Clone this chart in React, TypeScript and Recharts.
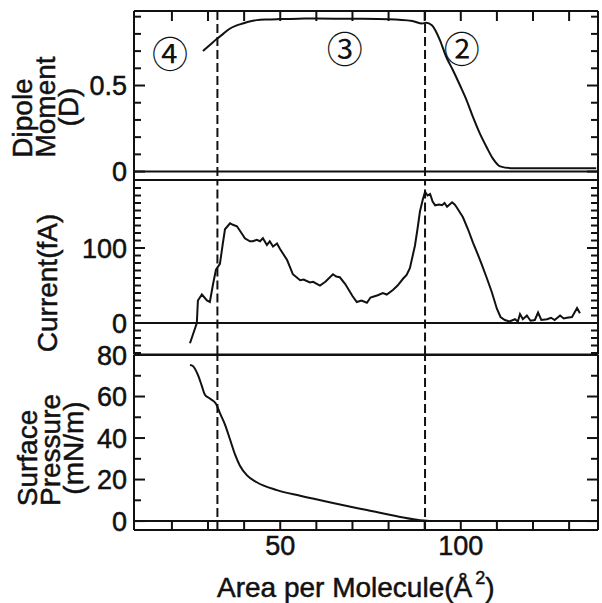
import React from 'react';
import { LineChart, Line, XAxis, YAxis, ReferenceLine, ReferenceDot } from 'recharts';

const W = 602;
const H = 603;
const LEFT = 134;
const RIGHT = 598;
const FONT = '"Liberation Sans", Arial, Helvetica, sans-serif';
const CJK = '"Noto Sans CJK JP", "Noto Sans CJK SC", sans-serif';
const INK = '#111';

// shared x axis: area per molecule (Å²)
const areaDomain: [number, number] = [9.5, 138];
const areaTicks = [20, 30, 40, 50, 60, 70, 80, 90, 100, 110, 120, 130];
const areaTickLabels = [50, 100];
const phaseBoundaries = [32.6, 90.1];

// panel 1: dipole moment (D)
const dipoleArea = [28.6, 30.5, 32.4, 34.2, 36.0, 37.8, 39.6, 41.5, 43.5, 46.5, 49.9, 55, 60, 70, 80, 86.6, 89.3, 90.4, 92.0, 94.3, 95.9, 97.8, 99.8, 101.7, 103.5, 105.3, 107.2, 108.9, 110.9, 114, 120, 128, 137.5];
const dipoleMoment = [0.70, 0.735, 0.77, 0.80, 0.83, 0.848, 0.86, 0.872, 0.88, 0.884, 0.886, 0.888, 0.89, 0.888, 0.885, 0.875, 0.86, 0.865, 0.85, 0.76, 0.67, 0.59, 0.50, 0.41, 0.31, 0.22, 0.14, 0.075, 0.03, 0.02, 0.02, 0.02, 0.02];
const dipoleDomain: [number, number] = [-0.049, 0.933];
const dipoleTicks = [0, 0.1, 0.2, 0.3, 0.4, 0.5, 0.6, 0.7, 0.8, 0.9];
const dipoleTickLabels = [0, 0.5];

// panel 2: current (fA)
const currentArea = [25.0, 26.9, 27.2, 28.3, 29.7, 30.5, 31.4, 32.2, 33.3, 34.1, 34.7, 36.1, 36.9, 38.0, 39.4, 40.2, 41.6, 42.4, 43.5, 44.4, 45.2, 46.3, 47.1, 48.0, 49.1, 49.9, 51.9, 53.5, 55.5, 56.5, 58.2, 59.1, 61.0, 62.5, 64.6, 65.5, 66.5, 68.0, 70.0, 71.2, 72.5, 74.0, 75.0, 75.7, 77.0, 78.4, 79.5, 81.2, 82.5, 84.0, 85.0, 85.9, 87.3, 88.0, 88.7, 89.5, 90.1, 90.8, 91.5, 92.2, 92.9, 94.0, 94.8, 95.5, 96.2, 97.6, 98.3, 98.9, 100.6, 102.0, 103.4, 104.6, 105.9, 107.2, 108.6, 110.0, 111.0, 112.2, 113.5, 115.0, 115.8, 116.4, 117.2, 118.3, 119.3, 120.5, 121.4, 122.3, 123.9, 125.0, 126.0, 127.5, 128.5, 129.4, 130.8, 132.2, 133.0];
const currentValue = [-27, 0, 30, 38, 30, 28, 52, 71, 79, 106, 125, 133, 131, 129, 119, 113, 109, 109, 111, 109, 113, 104, 109, 102, 106, 99, 84, 65, 57, 58, 54, 55, 50, 55, 65, 62, 61, 52, 36, 28, 30, 27, 34, 35, 37, 40, 38, 44, 50, 59, 64, 73, 103, 125, 149, 165, 175, 170, 172, 162, 157, 158, 157, 160, 155, 161, 158, 154, 141, 125, 107, 93, 77, 60, 41, 19, 8, 4, 2, 5, 2, 12, 5, 10, 3, 4, 14, 4, 5, 7, 4, 10, 6, 7, 8, 20, 13];
const currentDomain: [number, number] = [-42, 190.7];
const currentTicks = [-40, -30, -20, -10, 0, 10, 20, 30, 40, 50, 60, 70, 80, 90, 100, 110, 120, 130, 140, 150, 160, 170, 180];
const currentTickLabels = [0, 100];

// panel 3: surface pressure (mN/m)
const pressureArea = [25.0, 25.8, 27.2, 28.3, 29.1, 30.5, 32.2, 33.3, 34.7, 36.1, 37.5, 38.8, 40.8, 43.5, 49.1, 55.5, 64.6, 74.0, 83.2, 88.7, 92.0, 100, 115, 137.7];
const pressureValue = [75.2, 74.7, 70.4, 65, 61, 59, 56.5, 52, 46.5, 39.3, 32, 26.8, 22, 18.7, 14.9, 12.2, 8.7, 5.3, 2.0, 0.4, 0, 0, 0, 0];
const pressureDomain: [number, number] = [-4.3, 80];
const pressureTicks = [0, 10, 20, 30, 40, 50, 60, 70, 80];
const pressureTickLabels = [0, 20, 40, 60, 80];

// phase labels (drawn in dipole panel data space)
const phaseNames = ['④', '③', '②'];
const phaseNameArea = [19.5, 67.9, 100.3];
const phaseNameMoment = [0.678, 0.706, 0.706];

// panel geometry in page pixels
const P1 = { top: 11, bottom: 180 };
const P2 = { top: 180, bottom: 354.5 };
const P3 = { top: 354.5, bottom: 529.5 };
const PAD = 16;
const C2 = P2.top - 2; // page y of chart 2 box
const C3 = P3.top - PAD; // page y of chart 3 box

const toRows = (xs: number[], ys: number[]) => xs.map((a, i) => ({ a, v: ys[i] }));
const fmt = (v: number) => String(v);
const TXT = { fontFamily: FONT, fill: INK, stroke: INK, strokeWidth: 0.5 };

const makeYTick = (labels: number[]) => (props: any) => {
  const { y, payload } = props;
  const v = payload.value;
  const major = labels.includes(v);
  const len = major ? 11 : 7;
  return (
    <g>
      <line x1={LEFT} x2={LEFT + len} y1={y} y2={y} stroke={INK} strokeWidth={2} />
      <line x1={RIGHT} x2={RIGHT - len} y1={y} y2={y} stroke={INK} strokeWidth={2} />
      {major && (
        <text x={LEFT - 7} y={y} dy="0.36em" textAnchor="end" fontSize={27} {...TXT}>
          {fmt(v)}
        </text>
      )}
    </g>
  );
};

const XTopTick = (props: any) => {
  const { x } = props;
  return <line x1={x} x2={x} y1={P1.top} y2={P1.top + 10} stroke={INK} strokeWidth={2} />;
};

const XBottomTick = (props: any) => {
  const { x, payload } = props;
  const v = payload.value;
  const base = P3.bottom - C3;
  return (
    <g>
      <line x1={x} x2={x} y1={base} y2={base - 9} stroke={INK} strokeWidth={2} />
      {areaTickLabels.includes(v) && (
        <text x={x} y={554 - C3} textAnchor="middle" fontSize={27} {...TXT}>
          {fmt(v)}
        </text>
      )}
    </g>
  );
};

const frame = (yd: [number, number]) => [
  <ReferenceLine key="fl" x={areaDomain[0]} stroke={INK} strokeWidth={2} ifOverflow="visible" />,
  <ReferenceLine key="fr" x={areaDomain[1]} stroke={INK} strokeWidth={2} ifOverflow="visible" />,
  <ReferenceLine key="fb" y={yd[0]} stroke={INK} strokeWidth={2} ifOverflow="visible" />,
  <ReferenceLine key="ft" y={yd[1]} stroke={INK} strokeWidth={2} ifOverflow="visible" />,
];

const dashed = phaseBoundaries.map((b) => (
  <ReferenceLine key={'d' + b} x={b} stroke={INK} strokeWidth={2} strokeDasharray="9 4" ifOverflow="visible" />
));

export default function App() {
  const dipoleRows = toRows(dipoleArea, dipoleMoment);
  const currentRows = toRows(currentArea, currentValue);
  const pressureRows = toRows(pressureArea, pressureValue);

  return (
    <div style={{ position: 'absolute', left: 0, top: 0, width: W, height: H, background: '#fff' }}>
      <div style={{ position: 'absolute', left: 0, top: 0 }}>
        <LineChart width={W} height={P1.bottom + PAD} data={dipoleRows} margin={{ top: P1.top - 1, bottom: PAD, left: 0, right: W - RIGHT }}>
          <XAxis type="number" dataKey="a" domain={areaDomain} allowDataOverflow ticks={areaTicks} interval={0} orientation="top" height={1} axisLine={false} tickLine={false} tick={XTopTick} />
          <YAxis type="number" domain={dipoleDomain} allowDataOverflow ticks={dipoleTicks} interval={0} width={LEFT} axisLine={false} tickLine={false} tick={makeYTick(dipoleTickLabels)} />
          {frame(dipoleDomain)}
          <ReferenceLine y={0} stroke={INK} strokeWidth={2} />
          {dashed}
          <Line dataKey="v" type="monotone" stroke={INK} strokeWidth={2} dot={false} isAnimationActive={false} />
          {phaseNames.map((n, i) => (
            <ReferenceDot
              key={n}
              x={phaseNameArea[i]}
              y={phaseNameMoment[i]}
              r={1}
              fill="none"
              stroke="none"
              label={{ value: n, position: 'center', fontSize: 36, fill: INK, fontFamily: CJK }}
            />
          ))}
        </LineChart>
      </div>
      <div style={{ position: 'absolute', left: 0, top: C2 }}>
        <LineChart width={W} height={P2.bottom - P2.top + 4} data={currentRows} margin={{ top: 2, bottom: 2, left: 0, right: W - RIGHT }}>
          <XAxis type="number" dataKey="a" domain={areaDomain} allowDataOverflow ticks={areaTicks} hide />
          <YAxis type="number" domain={currentDomain} allowDataOverflow ticks={currentTicks} interval={0} width={LEFT} axisLine={false} tickLine={false} tick={makeYTick(currentTickLabels)} />
          {frame(currentDomain)}
          <ReferenceLine y={0} stroke={INK} strokeWidth={2} />
          {dashed}
          <Line dataKey="v" type="linear" stroke={INK} strokeWidth={2} dot={false} isAnimationActive={false} />
        </LineChart>
      </div>
      <div style={{ position: 'absolute', left: 0, top: C3 }}>
        <LineChart width={W} height={H - C3} data={pressureRows} margin={{ top: PAD, bottom: H - P3.bottom - 1, left: 0, right: W - RIGHT }}>
          <XAxis type="number" dataKey="a" domain={areaDomain} allowDataOverflow ticks={areaTicks} interval={0} orientation="bottom" height={1} axisLine={false} tickLine={false} tick={XBottomTick} />
          <YAxis type="number" domain={pressureDomain} allowDataOverflow ticks={pressureTicks} interval={0} width={LEFT} axisLine={false} tickLine={false} tick={makeYTick(pressureTickLabels)} />
          {frame(pressureDomain)}
          <ReferenceLine y={0} stroke={INK} strokeWidth={2} />
          {dashed}
          <Line dataKey="v" type="monotone" stroke={INK} strokeWidth={2} dot={false} isAnimationActive={false} />
        </LineChart>
      </div>
      <svg width={W} height={H} style={{ position: 'absolute', left: 0, top: 0, pointerEvents: 'none' }}>
        <g fontSize={28} {...TXT}>
          <text transform="translate(32,118) rotate(-90)" textAnchor="middle">Dipole</text>
          <text transform="translate(55,107) rotate(-90)" textAnchor="middle">Moment</text>
          <text transform="translate(78,107) rotate(-90)" textAnchor="middle">(D)</text>
          <text transform="translate(57,283) rotate(-90)" textAnchor="middle">Current(fA)</text>
          <text transform="translate(37,458) rotate(-90)" textAnchor="middle">Surface</text>
          <text transform="translate(60,450) rotate(-90)" textAnchor="middle">Pressure</text>
          <text transform="translate(83,448) rotate(-90)" textAnchor="middle">(mN/m)</text>
          <text x={217} y={597}>
            Area per Molecule(Å
            <tspan dx={3} dy={-13} fontSize={18}>2</tspan>
            <tspan dy={13}>)</tspan>
          </text>
        </g>
      </svg>
    </div>
  );
}
